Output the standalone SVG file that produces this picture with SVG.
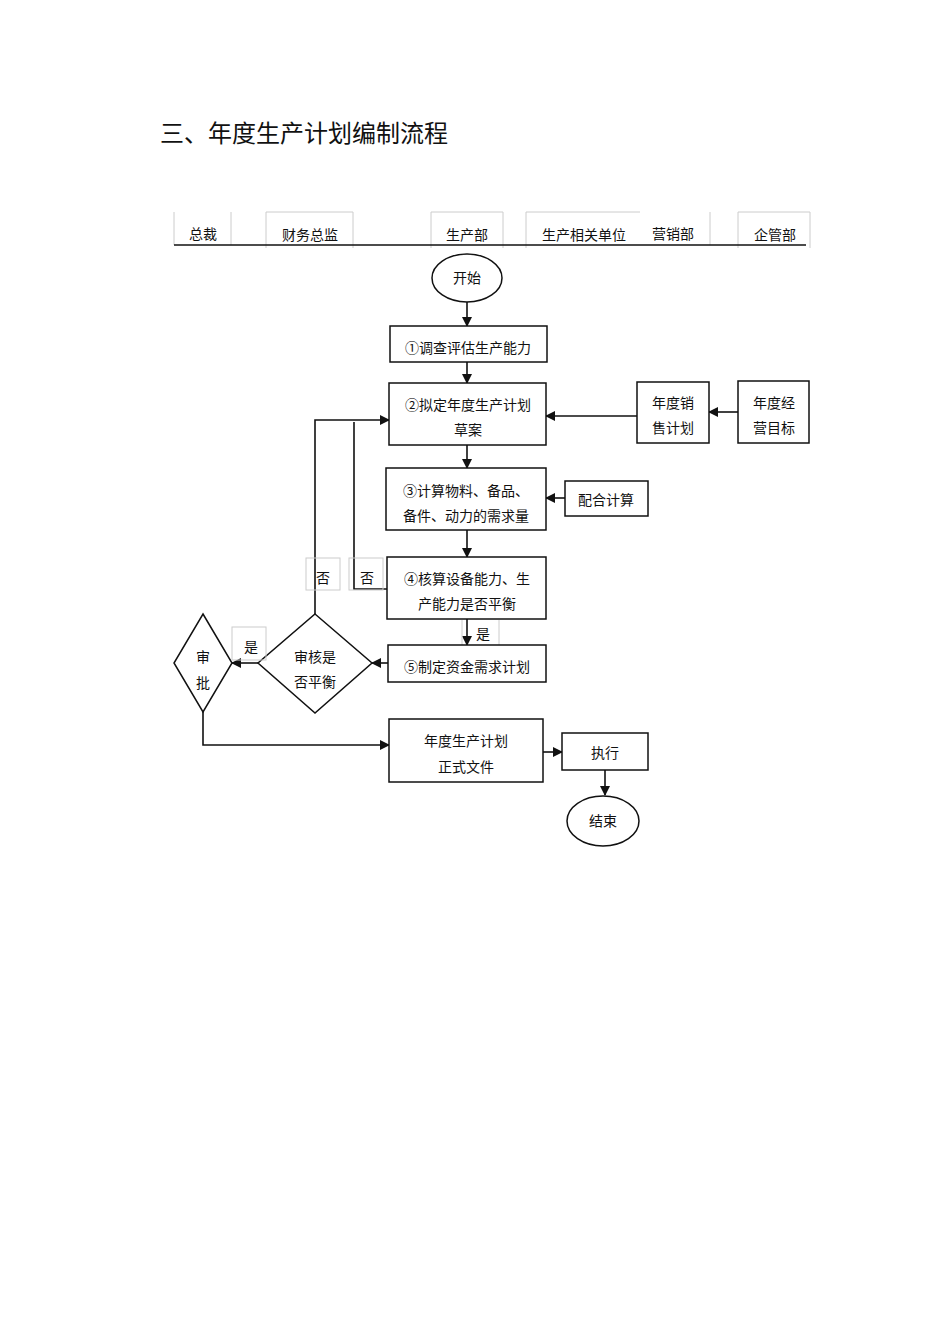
<svg xmlns="http://www.w3.org/2000/svg" width="950" height="1344" viewBox="0 0 950 1344">
<style>
text{font-family:"Liberation Serif","Noto Sans CJK SC",serif;font-size:14px;fill:#111;text-anchor:middle}
.n{fill:#fff;stroke:#111;stroke-width:1.5}
.g{fill:none;stroke:#ccc;stroke-width:1}
.c{fill:none;stroke:#111;stroke-width:1.6}
</style>
<defs><marker id="a" markerWidth="10" markerHeight="10" refX="9" refY="5" orient="auto" markerUnits="userSpaceOnUse"><path d="M0,0L10,5L0,10z" fill="#111"/></marker></defs>
<rect width="950" height="1344" fill="#fff"/>
<text x="160" y="142" style="font-size:24px;text-anchor:start">三、年度生产计划编制流程</text>
<g id="header">
<path class="g" d="M174,212V245M231,212V245M266,248V212H353V248M431,248V212H503V248M526,248V212H640M710,212V245M738,248V212H810V248"/>
<line x1="174" y1="245" x2="806" y2="245" stroke="#111" stroke-width="1.5"/>
<text x="203" y="239">总裁</text><text x="310" y="240">财务总监</text><text x="467" y="240">生产部</text><text x="584" y="240">生产相关单位</text><text x="673" y="239">营销部</text><text x="775" y="240">企管部</text>
</g>
<g id="review"><path class="n" d="M315,614L372,663L315,713L258,663z"/><text x="315" y="662">审核是</text><text x="315" y="687">否平衡</text></g>
<g id="approve"><path class="n" d="M203,614L232,663L203,712L174,663z"/><text x="203" y="662">审</text><text x="203" y="688">批</text></g>
<g id="connectors">
<path class="c" marker-end="url(#a)" d="M467,302V326"/>
<path class="c" marker-end="url(#a)" d="M467,362V383"/>
<path class="c" marker-end="url(#a)" d="M738,412H709"/>
<path class="c" marker-end="url(#a)" d="M637,416H546"/>
<path class="c" marker-end="url(#a)" d="M467,445V468"/>
<path class="c" marker-end="url(#a)" d="M565,498H546"/>
<path class="c" marker-end="url(#a)" d="M467,530V557"/>
<path class="c" d="M387,589H354V422"/>
<path class="c" marker-end="url(#a)" d="M315,614V420H389"/>
<path class="c" marker-end="url(#a)" d="M467,619V645"/>
<path class="c" marker-end="url(#a)" d="M388,663H372"/>
<path class="c" marker-end="url(#a)" d="M258,663H232"/>
<path class="c" marker-end="url(#a)" d="M203,712V745H389"/>
<path class="c" marker-end="url(#a)" d="M543,752H562"/>
<path class="c" marker-end="url(#a)" d="M605,770V795"/>
<rect class="g" x="306" y="558" width="34" height="32"/><text x="323" y="583">否</text>
<rect class="g" x="349" y="558" width="34" height="32"/><text x="367" y="583">否</text>
<path class="g" d="M462,620V645M499,620V645"/><text x="483" y="639">是</text>
<rect class="g" x="232" y="627" width="34" height="33"/><text x="251" y="652">是</text>
</g>
<g id="start"><ellipse class="n" cx="467" cy="278" rx="35" ry="24"/><text x="467" y="283">开始</text></g>
<g id="s1"><rect class="n" x="390" y="326" width="157" height="36"/><text x="468" y="353">①调查评估生产能力</text></g>
<g id="s2"><rect class="n" x="389" y="383" width="157" height="62"/><text x="468" y="410">②拟定年度生产计划</text><text x="468" y="435">草案</text></g>
<g id="sales"><rect class="n" x="637" y="382" width="72" height="61"/><text x="673" y="408">年度销</text><text x="673" y="433">售计划</text></g>
<g id="goal"><rect class="n" x="738" y="381" width="71" height="62"/><text x="774" y="408">年度经</text><text x="774" y="433">营目标</text></g>
<g id="s3"><rect class="n" x="386" y="468" width="160" height="62"/><text x="466" y="496">③计算物料、备品、</text><text x="466" y="521">备件、动力的需求量</text></g>
<g id="calc"><rect class="n" x="565" y="481" width="83" height="35"/><text x="606" y="505">配合计算</text></g>
<g id="s4"><rect class="n" x="387" y="557" width="159" height="62"/><text x="467" y="584">④核算设备能力、生</text><text x="467" y="609">产能力是否平衡</text></g>
<g id="s5"><rect class="n" x="388" y="645" width="158" height="37"/><text x="467" y="672">⑤制定资金需求计划</text></g>
<g id="doc"><rect class="n" x="389" y="719" width="154" height="63"/><text x="466" y="746">年度生产计划</text><text x="466" y="772">正式文件</text></g>
<g id="exec"><rect class="n" x="562" y="733" width="86" height="37"/><text x="605" y="758">执行</text></g>
<g id="end"><ellipse class="n" cx="603" cy="821" rx="36" ry="25"/><text x="603" y="826">结束</text></g>
</svg>
